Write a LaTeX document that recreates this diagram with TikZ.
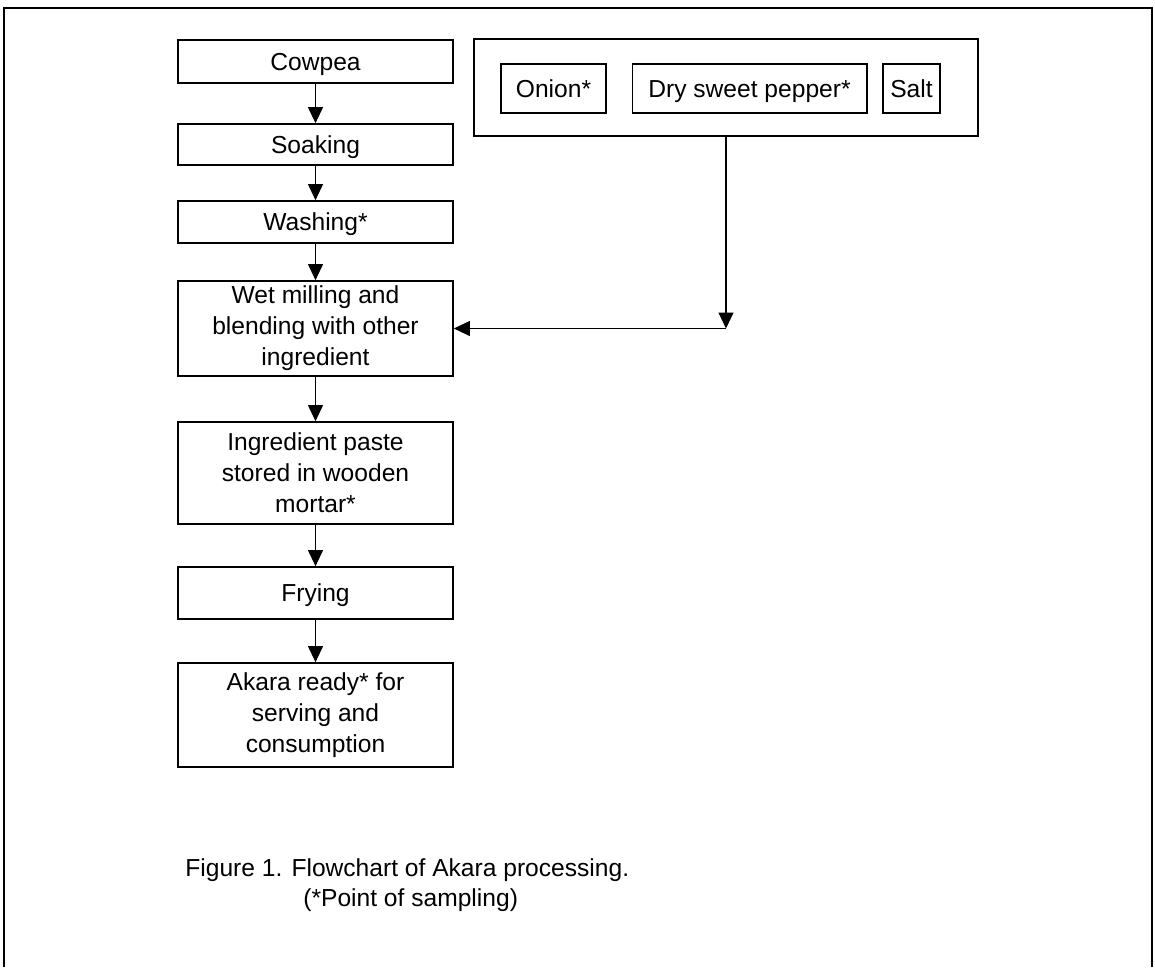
\documentclass[tikz,border=0pt]{standalone}
\usepackage{fontspec}
\setmainfont{Liberation Sans}
\usetikzlibrary{arrows.meta}
\usetikzlibrary{positioning}

\begin{document}
\begin{tikzpicture}[x=0.02cm, y=-0.02cm,
        stepbox/.style={draw, line width=1pt, minimum width=5.5cm, align=center, inner sep=0pt, font=\fontsize{14}{17.6}\selectfont},
        onestep/.style={stepbox, text height=10pt, text depth=0pt},
        itembox/.style={draw, line width=0.6pt, minimum height=0.98cm, inner sep=0pt, text height=10pt, text depth=0pt, font=\fontsize{14}{17.6}\selectfont},
        flow/.style={-{Triangle[length=0.32cm, width=0.3cm]}, line width=0.6pt}]
                \useasboundingbox (0, 0) rectangle (1155, 967);
                \draw[line width=1.1pt] (4, 967) -- (4, 8) -- (1152, 8) -- (1152, 967);
                \node[onestep, minimum height=0.86cm] (cowpea) at (315.5, 61.5) {Cowpea};
                \node[onestep, minimum height=0.82cm] (soaking) at (315.5, 144.5) {Soaking};
                \node[onestep, minimum height=0.84cm] (washing) at (315.5, 222) {Washing*};
                \node[stepbox, minimum height=1.9cm] (milling) at (315.5, 328.5) {Wet milling and\\blending with other\\ingredient};
                \node[stepbox, minimum height=2.04cm] (paste) at (315.5, 473) {Ingredient paste\\stored in wooden\\mortar*};
                \node[onestep, minimum height=1.04cm] (frying) at (315.5, 593) {Frying};
                \node[stepbox, minimum height=2.08cm] (akara) at (315.5, 715) {Akara ready* for\\serving and\\consumption};
                \node[draw, line width=1pt, minimum width=10.08cm, minimum height=1.94cm] (ingredients) at (726, 87.5) {};
                \node[itembox, minimum width=2.1cm] (onion) at (553.5, 88.5) {Onion*};
                \node[itembox, minimum width=4.7cm] (pepper) at (749.5, 88.5) {Dry sweet pepper*};
                \node[itembox, minimum width=1.14cm] (salt) at (911.5, 88.5) {Salt};
                \draw[flow] (cowpea) -- (soaking);
                \draw[flow] (soaking) -- (washing);
                \draw[flow] (washing) -- (milling);
                \draw[flow] (milling) -- (paste);
                \draw[flow] (paste) -- (frying);
                \draw[flow] (frying) -- (akara);
                \coordinate (turn) at (ingredients.south |- milling.east);
                \draw[flow] (ingredients.south) -- (turn);
                \draw[flow] (turn) -- (milling.east);
                \node[anchor=base west, inner sep=0pt, font=\fontsize{14}{17.6}\selectfont] (caption) at (185, 876) {Figure 1. Flowchart of Akara processing.};
                \node[anchor=base west, inner sep=0pt, font=\fontsize{14}{17.6}\selectfont] (note) at (303, 906) {(*Point of sampling)};
            \end{tikzpicture}
\end{document}
